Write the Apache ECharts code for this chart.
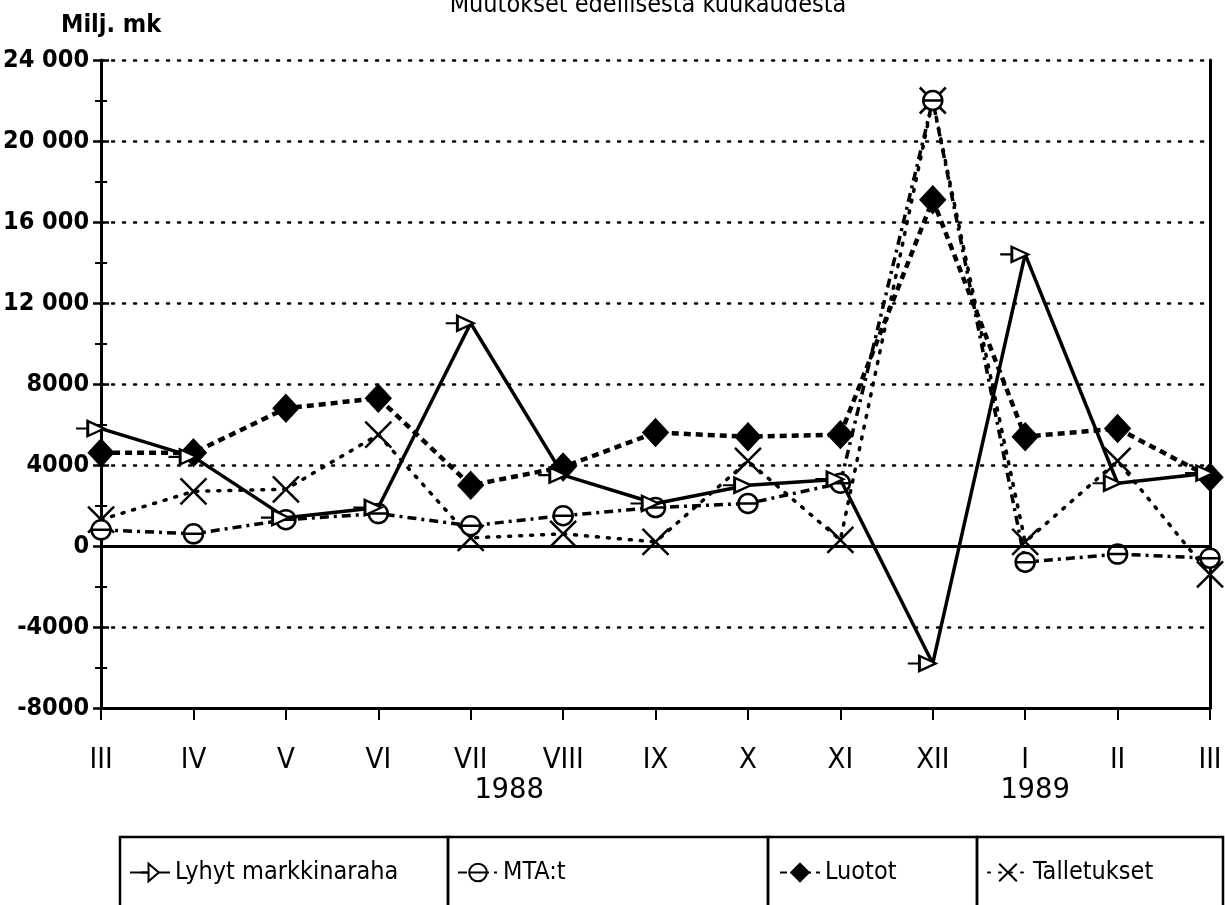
<!DOCTYPE html>
<html><head><meta charset="utf-8">
<script src="https://cdn.jsdelivr.net/npm/echarts@6/dist/echarts.min.js"></script>
<style>html,body{margin:0;padding:0;background:#fff}#c{width:1225px;height:905px}</style>
</head><body><div id="c"></div>
<script>
const months = ['III','IV','V','VI','VII','VIII','IX','X','XI','XII','I','II','III '];
const lyhyt = [5800, 4400, 1400, 1900, 11000, 3500, 2100, 3000, 3300, -5800, 14400, 3100, 3600];
const mta = [800, 600, 1300, 1600, 1000, 1500, 1900, 2100, 3100, 22000, -800, -400, -600];
const luotot = [4600, 4600, 6800, 7300, 3000, 3900, 5600, 5400, 5500, 17100, 5400, 5800, 3400];
const talletukset = [1300, 2700, 2800, 5500, 400, 600, 200, 4200, 300, 22000, 200, 4200, -1400];
const names = ['Lyhyt markkinaraha', 'MTA:t', 'Luotot', 'Talletukset'];
const years = ['1988', '1989'];
const titleText = 'Muutokset edellisestä kuukaudesta';
const unitText = 'Milj. mk';

const NF = '"Liberation Sans Narrow","DejaVu Sans Condensed","Roboto Condensed",sans-serif';
const fmtY = v => {
  const a = Math.abs(v);
  let s = a >= 10000 ? Math.floor(a/1000) + ' ' + String(a%1000).padStart(3,'0') : String(a);
  return (v < 0 ? '-' : '') + s;
};
const triPath = 'path://M-10,0 L0,0 M0,-9 L0,9 L14,0 Z';
const circPath = 'path://M0,-7 A7,7 0 1,1 0,7 A7,7 0 1,1 0,-7 Z M-7,0 L7,0';
const xPath = 'path://M-8,-8 L8,8 M8,-8 L-8,8';

const chart = echarts.init(document.getElementById('c'));
const yBase = {type:'value', min:-8000, max:24000, interval:4000};
const legendBase = {top: 855, itemWidth: 40, itemHeight: 22, itemGap: 8, textStyle:{fontFamily:NF, fontSize:25, color:'#000'}, selectedMode:false};
chart.setOption({
  animation:false,
  backgroundColor:'#fff',
  title:[
    {text:titleText, left:643, top:-12, textAlign:'center', textStyle:{fontFamily:NF, fontSize:25, fontWeight:'normal', color:'#000'}},
    {text:unitText, left:56, top:8, textStyle:{fontFamily:NF, fontSize:25, fontWeight:'bold', color:'#000'}}
  ],
  grid:{left:97, right:15, top:60, bottom:197},
  xAxis:{type:'category', data:months, boundaryGap:false,
    axisLine:{onZero:false, lineStyle:{color:'#000', width:3}},
    axisTick:{length:12, lineStyle:{color:'#000', width:2}},
    axisLabel:{margin:38, fontFamily:NF, fontSize:29, color:'#000', formatter: v=>v.trim()},
    splitLine:{show:false}},
  yAxis:[
    Object.assign({}, yBase, {position:'left',
      axisLine:{show:true, lineStyle:{color:'#000', width:3}},
      axisTick:{show:true, length:8, lineStyle:{color:'#000', width:2.5}},
      minorTick:{show:true, splitNumber:2, length:6, lineStyle:{color:'#000', width:2}},
      axisLabel:{margin:12, fontFamily:NF, fontSize:25, fontWeight:'bold', color:'#000', formatter: fmtY},
      splitLine:{show:true, lineStyle:{color:'#000', width:2.5, type:[2,9], cap:'round'}}}),
    Object.assign({}, yBase, {position:'left',
      axisLine:{show:false},
      axisTick:{show:true, inside:true, length:8, lineStyle:{color:'#000', width:2.5}},
      minorTick:{show:true, splitNumber:2, length:6, lineStyle:{color:'#000', width:2}},
      axisLabel:{show:false}, splitLine:{show:false}}),
    Object.assign({}, yBase, {position:'right',
      axisLine:{show:true, lineStyle:{color:'#000', width:3}},
      axisTick:{show:false}, axisLabel:{show:false}, splitLine:{show:false}})
  ],
  legend:[
    Object.assign({}, legendBase, {left:124, data:[names[0]]}),
    Object.assign({}, legendBase, {left:452, data:[names[1]]}),
    Object.assign({}, legendBase, {left:774, data:[names[2]]}),
    Object.assign({}, legendBase, {left:982, data:[names[3]]})
  ],
  graphic:[
    {type:'text', left:474, top:776, style:{text:years[0], font:'29px "DejaVu Sans Mono", monospace', fill:'#000'}},
    {type:'text', left:1000, top:776, style:{text:years[1], font:'29px "DejaVu Sans Mono", monospace', fill:'#000'}},
    {type:'rect', shape:{x:120, y:837, width:328, height:100}, style:{fill:'none', stroke:'#000', lineWidth:2.5}},
    {type:'rect', shape:{x:448, y:837, width:320, height:100}, style:{fill:'none', stroke:'#000', lineWidth:2.5}},
    {type:'rect', shape:{x:768, y:837, width:209, height:100}, style:{fill:'none', stroke:'#000', lineWidth:2.5}},
    {type:'rect', shape:{x:977, y:837, width:246, height:100}, style:{fill:'none', stroke:'#000', lineWidth:2.5}}
  ],
  series:[
    {name:names[0], type:'line', data:lyhyt, symbol:triPath, symbolSize:[28,20], symbolOffset:[-11,0], symbolKeepAspect:true,
     itemStyle:{color:'#fff', borderColor:'#000', borderWidth:2.5},
     lineStyle:{color:'#000', width:3.5}, z:5,
     markLine:{silent:true, symbol:'none', label:{show:false}, lineStyle:{color:'#000', width:3, type:'solid'}, data:[{yAxis:0}]}},
    {name:names[1], type:'line', data:mta, symbol:circPath, symbolSize:19, symbolKeepAspect:true,
     itemStyle:{color:'#fff', borderColor:'#000', borderWidth:2.5},
     lineStyle:{color:'#000', width:3.5, type:[9,5,3,5]}, z:4},
    {name:names[2], type:'line', data:luotot, symbol:'diamond', symbolSize:[26,28],
     itemStyle:{color:'#000', borderColor:'#000', borderWidth:1},
     lineStyle:{color:'#000', width:4.5, type:[7,5]}, z:3},
    {name:names[3], type:'line', data:talletukset, symbol:xPath, symbolSize:26,
     itemStyle:{color:'none', borderColor:'#000', borderWidth:2.5},
     lineStyle:{color:'#000', width:3.5, type:[2,9], cap:'round'}, z:2}
  ]
});
</script></body></html>
